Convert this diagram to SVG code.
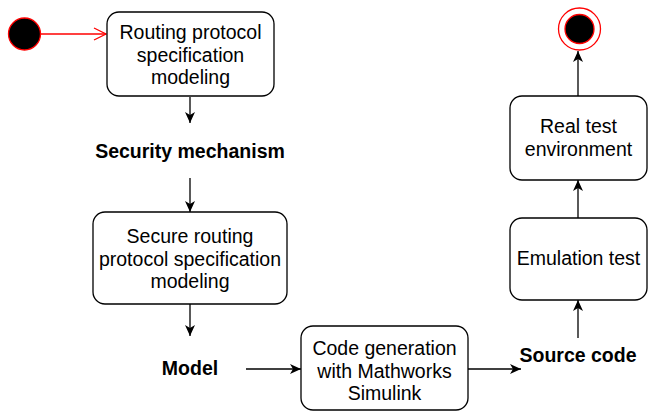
<svg xmlns="http://www.w3.org/2000/svg" width="648" height="412" viewBox="0 0 648 412">
<style>
.box{fill:#fff;stroke:#000;stroke-width:1.3}
.t{font-family:"Liberation Sans",Helvetica,Arial,sans-serif;font-size:19.5px;fill:#000;text-anchor:middle}
.b{font-weight:bold}
.c{fill:none;stroke:#000;stroke-width:1.3}
</style>
<defs>
<marker id="ah" markerWidth="12" markerHeight="10" refX="11" refY="5" orient="auto" markerUnits="userSpaceOnUse">
<path d="M0,0 L11,5 L0,10 L3,5 z" fill="#000"/>
</marker>
<marker id="ar" markerWidth="14" markerHeight="14" refX="13" refY="7" orient="auto" markerUnits="userSpaceOnUse">
<path d="M1,1 L13,7 L1,13" fill="none" stroke="#f00" stroke-width="1.3"/>
</marker>
</defs>
<g id="connectors">
<line x1="41" y1="34" x2="106" y2="34" stroke="#f00" stroke-width="1.3" marker-end="url(#ar)"/>
<line class="c" x1="190" y1="97" x2="190" y2="123" marker-end="url(#ah)"/>
<line class="c" x1="190" y1="178" x2="190" y2="212" marker-end="url(#ah)"/>
<line class="c" x1="190" y1="304" x2="190" y2="336" marker-end="url(#ah)"/>
<line class="c" x1="246" y1="369" x2="301" y2="369" marker-end="url(#ah)"/>
<line class="c" x1="468" y1="369" x2="521" y2="369" marker-end="url(#ah)"/>
<line class="c" x1="578" y1="338" x2="578" y2="300" marker-end="url(#ah)"/>
<line class="c" x1="578" y1="218" x2="578" y2="180" marker-end="url(#ah)"/>
<line class="c" x1="578" y1="96" x2="578" y2="51" marker-end="url(#ah)"/>
</g>
<g id="start">
<circle cx="24.5" cy="34" r="16" fill="#000" stroke="#f00" stroke-width="1.3"/>
</g>
<g id="n1">
<rect class="box" x="107" y="12" width="167" height="84" rx="12"/>
<text class="t" x="190.5" y="39">Routing protocol</text>
<text class="t" x="190.5" y="61.5">specification</text>
<text class="t" x="190.5" y="84">modeling</text>
</g>
<g id="n2">
<text class="t b" x="190" y="158">Security mechanism</text>
</g>
<g id="n3">
<rect class="box" x="93" y="212" width="194" height="92" rx="12"/>
<text class="t" x="190" y="243">Secure routing</text>
<text class="t" x="190" y="265.5">protocol specification</text>
<text class="t" x="190" y="288">modeling</text>
</g>
<g id="n4">
<text class="t b" x="190" y="375">Model</text>
</g>
<g id="n5">
<rect class="box" x="301" y="326" width="167" height="84" rx="12"/>
<text class="t" x="384.5" y="355">Code generation</text>
<text class="t" x="384.5" y="377.5">with Mathworks</text>
<text class="t" x="384.5" y="400">Simulink</text>
</g>
<g id="n6">
<text class="t b" x="578" y="362">Source code</text>
</g>
<g id="n7">
<rect class="box" x="510" y="218" width="137" height="82" rx="12"/>
<text class="t" x="578.5" y="265">Emulation test</text>
</g>
<g id="n8">
<rect class="box" x="510" y="96" width="137" height="84" rx="12"/>
<text class="t" x="578.5" y="133">Real test</text>
<text class="t" x="578.5" y="155.5">environment</text>
</g>
<g id="end">
<circle cx="579.5" cy="29" r="21" fill="#fff" stroke="#f00" stroke-width="1.3"/>
<circle cx="579.5" cy="29" r="14.5" fill="#000" stroke="#f00" stroke-width="1.3"/>
</g>
</svg>
